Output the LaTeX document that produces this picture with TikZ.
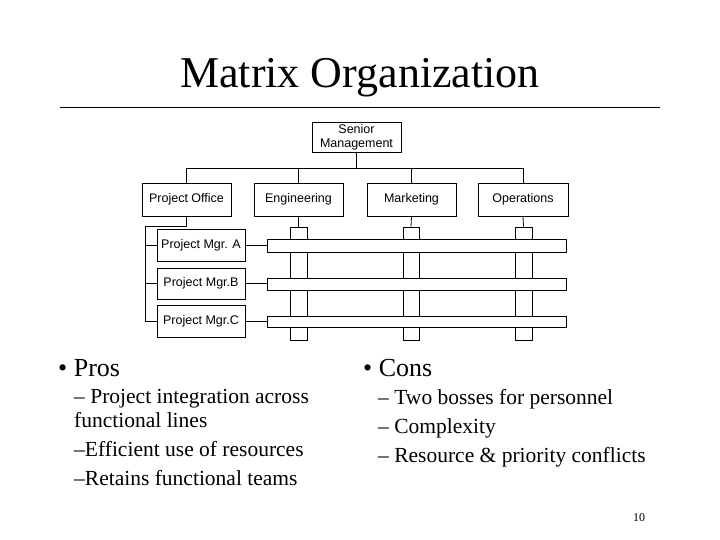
\documentclass[tikz,border=0pt]{standalone}
\usepackage{fontspec}
\setmainfont{Liberation Serif}
\newfontfamily\diag{Liberation Sans}
\begin{document}
\begin{tikzpicture}[x=1pt,y=-1pt,
  bx/.style={draw,line width=0.8pt,fill=white,inner sep=0pt,font=\diag\fontsize{12.5}{14}\selectfont,align=center},
  ln/.style={line width=0.8pt},
  txt/.style={anchor=west,inner sep=0pt,align=left}]
\useasboundingbox (0,0) rectangle (720,540);
\node[inner sep=0pt,font=\fontsize{44}{48}\selectfont] (title) at (360,78) {Matrix Organization};
\draw[line width=0.8pt] (60,107) coordinate (r1) -- (660,107) coordinate (r2);
% boxes
\node[bx,minimum width=89pt,minimum height=30pt] (sm) at (356.5,137) {Senior\\Management};
\node[bx,minimum width=89pt,minimum height=33pt] (po) at (186.5,199.5) {Project Office};
\node[bx,minimum width=89pt,minimum height=33pt] (en) at (298.5,199.5) {Engineering};
\node[bx,minimum width=89pt,minimum height=33pt] (mk) at (411.5,199.5) {Marketing};
\node[bx,minimum width=90pt,minimum height=33pt] (op) at (523,199.5) {Operations};
\coordinate (bus) at (0,168);
\draw[ln] (sm.south) -- (sm.south |- bus);
\draw[ln] (po.north) |- (op.north |- bus) -- (op.north);
\draw[ln] (en.north) -- (en.north |- bus);
\draw[ln] (mk.north) -- (mk.north |- bus);
% columns
\node[bx,minimum width=17pt,minimum height=113pt] (ce) at (298.5,283.5) {};
\node[bx,minimum width=16pt,minimum height=113pt] (cm) at (411,283.5) {};
\node[bx,minimum width=17pt,minimum height=113pt] (co) at (523.5,283.5) {};
\draw[ln] (en.south) -- (ce.north);
\draw[ln] (mk.south) -- (cm.north);
\draw[ln] (op.south) -- (co.north);
% bars
\node[bx,minimum width=299pt,minimum height=13pt] (ba) at (416.5,245.5) {};
\node[bx,minimum width=299pt,minimum height=12pt] (bb) at (416.5,284) {};
\node[bx,minimum width=299pt,minimum height=11pt] (bc) at (416.5,321.5) {};
% PMs
\node[bx,minimum width=88pt,minimum height=32pt] (pa) at (201,245) {Project Mgr. A};
\node[bx,minimum width=88pt,minimum height=31pt] (pb) at (201,283.5) {Project Mgr.B};
\node[bx,minimum width=88pt,minimum height=32pt] (pc) at (201,321) {Project Mgr.C};
\coordinate (k1) at (145,226);
\draw[ln] (po.south) -- (po.south |- k1) -- (k1) |- (pc.west);
\draw[ln] (k1 |- pa.west) -- (pa.west);
\draw[ln] (k1 |- pb.west) -- (pb.west);
\draw[ln] (pa.east) -- (pa.east -| ba.west);
\draw[ln] (pb.east) -- (pb.east -| bb.west);
\draw[ln] (pc.east) -- (pc.east -| bc.west);
% text
\node[txt,font=\fontsize{26}{30}\selectfont] (pros) at (58,368) {• Pros};
\node[txt,font=\fontsize{26}{30}\selectfont] (cons) at (363,368) {• Cons};
\node[txt,anchor=north west,font=\fontsize{21.5}{24}\selectfont] (pl) at (74,389) {– Project integration across\\functional lines\\[5pt]–Efficient use of resources\\[5pt]–Retains functional teams};
\node[txt,anchor=north west,font=\fontsize{21.5}{24}\selectfont] (cl) at (378,389) {– Two bosses for personnel\\[5pt]– Complexity\\[5pt]– Resource \& priority conflicts};
\node[inner sep=0pt,font=\fontsize{12}{14}\selectfont] (pg) at (639,518) {10};
\end{tikzpicture}
\end{document}
